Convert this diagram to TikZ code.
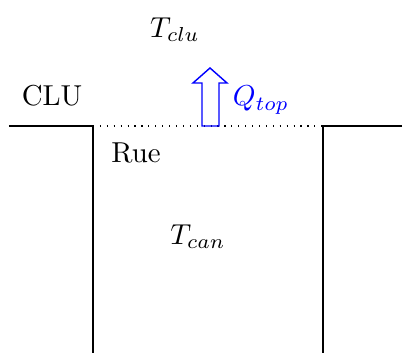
\documentclass[tikz,border=0pt]{standalone}
\begin{document}
\begin{tikzpicture}[x=0.347pt,y=-0.347pt,
  wall/.style={line width=0.4pt},
  lab/.style={inner sep=0pt},
  flux/.style={draw=blue,line width=0.5pt}]
\useasboundingbox (0,0) rectangle (403,353);
\coordinate (l0) at (9,126);
\coordinate (l1) at (93,126);
\coordinate (lb) at (93,353);
\coordinate (r1) at (323,126);
\coordinate (r0) at (402,126);
\coordinate (rb) at (323,353);
\draw[wall] (l0) -- (l1) -- (lb);
\draw[wall] (r0) -- (r1) -- (rb);
\draw[wall,dotted] (l1) -- (r1);
\draw[flux] (202,126) -- (202,83) -- (193,83) -- (210,68) -- (227,83) -- (219,83) -- (219,126) -- cycle;
\node[lab] (tclu) at (175,30) {$T_{clu}$};
\node[lab] (clu) at (52,96) {CLU};
\node[lab,text=blue] (qtop) at (261,100) {$Q_{top}$};
\node[lab] (rue) at (136,153) {Rue};
\node[lab] (tcan) at (198,237) {$T_{can}$};
\end{tikzpicture}
\end{document}
